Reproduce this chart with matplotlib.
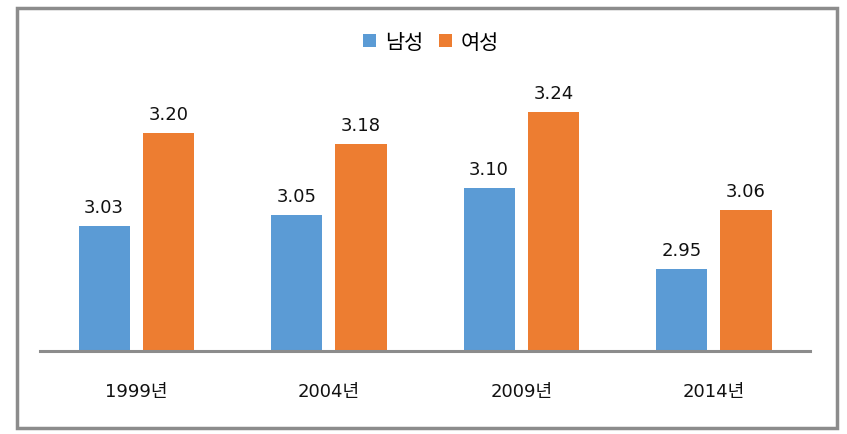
import matplotlib.pyplot as plt
import numpy as np
from matplotlib.patches import Rectangle

plt.rcParams['font.family'] = ['DejaVu Sans', 'Noto Sans CJK KR']

years = ['1999년', '2004년', '2009년', '2014년']
male = [3.03, 3.05, 3.10, 2.95]
female = [3.20, 3.18, 3.24, 3.06]

W, H = 847, 435
fig = plt.figure(figsize=(W / 100, H / 100), dpi=100)
ax = fig.add_axes([40 / W, (H - 352) / H, 770 / W, 302 / H])

x = np.arange(len(years))
bw = 0.266
off = 0.167
b1 = ax.bar(x - off, male, bw, color='#5B9BD5', label='남성')
b2 = ax.bar(x + off, female, bw, color='#ED7D31', label='여성')

# value labels, baseline ~14px above bar top
for bars, vals in ((b1, male), (b2, female)):
    for b, v in zip(bars, vals):
        ax.annotate(f'{v:.2f}', (b.get_x() + b.get_width() / 2, v),
                    xytext=(0, 10), textcoords='offset points',
                    ha='center', va='baseline', fontsize=13, color='#111111')

ax.set_xlim(-0.5, 3.5)
ax.set_ylim(2.8, 3.355)
ax.set_xticks(x)
ax.set_xticklabels(years, fontsize=13, color='#111111')
ax.tick_params(axis='x', length=0, pad=22)
ax.set_yticks([])
for s in ['top', 'right', 'left']:
    ax.spines[s].set_visible(False)
ax.spines['bottom'].set_color('#8c8c8c')
ax.spines['bottom'].set_linewidth(2.2)

fig.legend(handles=[b1, b2], loc='center', bbox_to_anchor=(431 / W, 1 - 43 / H),
           ncol=2, frameon=False, fontsize=15, handlelength=0.63, handleheight=0.63,
           handletextpad=0.43, columnspacing=0.77,
           prop={'family': ['Noto Sans CJK KR'], 'size': 15})

fig.patches.append(Rectangle((17 / W, (H - 428.5) / H), 820 / W, 420 / H,
                             transform=fig.transFigure, fill=False,
                             edgecolor='#8c8c8c', linewidth=2.5))

fig.savefig('out.png', dpi=100)
